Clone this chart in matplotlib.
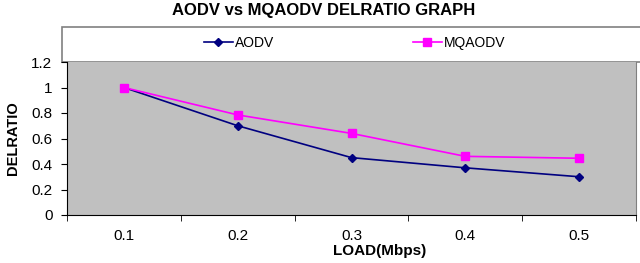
import matplotlib
matplotlib.use("Agg")
import matplotlib.pyplot as plt
from matplotlib.patches import Rectangle

plt.rcParams['font.family'] = ['Liberation Sans', 'DejaVu Sans']

loads = ['0.1', '0.2', '0.3', '0.4', '0.5']
aodv = [1.0, 0.70, 0.45, 0.37, 0.30]
mqaodv = [1.0, 0.785, 0.64, 0.46, 0.445]

fig = plt.figure(figsize=(6.4, 2.63), dpi=100)
W, H = 640, 263
ax = fig.add_axes([67 / W, (H - 215) / H, (636 - 67) / W, (215 - 62) / H])
ax.set_facecolor('#c0c0c0')

x = list(range(len(loads)))
ax.plot(x, aodv, color='#000080', marker='D', markersize=4.2, lw=1.2, label='AODV')
ax.plot(x, mqaodv, color='#ff00ff', marker='s', markersize=5.8, lw=1.2, label='MQAODV')

ax.set_xlim(-0.5, len(loads) - 0.5)
ax.set_ylim(0, 1.2)
ax.set_yticks([0, 0.2, 0.4, 0.6, 0.8, 1, 1.2])
ax.set_yticklabels(['0', '0.2', '0.4', '0.6', '0.8', '1', '1.2'], fontsize=11)
ax.set_xticks(x)
ax.set_xticklabels(loads, fontsize=11)
ax.set_xticks([i + 0.5 for i in range(-1, len(loads))], minor=True)
ax.tick_params(axis='x', which='major', length=0, pad=10)
ax.tick_params(axis='x', which='minor', length=4, direction='out')
ax.tick_params(axis='y', length=4, direction='out', pad=6.5)

for s in ['left', 'bottom']:
    ax.spines[s].set_color('black')
ax.spines['right'].set_color('#808080')
ax.spines['top'].set_visible(False)

ax.set_xlabel('LOAD(Mbps)', fontsize=11, fontweight='bold', labelpad=1,
              x=(380 - 67) / (636 - 67))
ax.set_ylabel('DELRATIO', fontsize=10.5, fontweight='bold', labelpad=8)

fig.text(324 / W, 1 - 11 / H, 'AODV vs MQAODV DELRATIO GRAPH', ha='center', va='center',
         fontsize=12, fontweight='bold')

# legend box across the top of the plot
fig.patches.append(Rectangle((62 / W, (H - 62) / H), (650 - 62) / W, 35 / H,
                             transform=fig.transFigure, facecolor='white',
                             edgecolor='#808080', lw=1.2, zorder=-1))
fig.legend(loc='center left', bbox_to_anchor=(191 / W, 1 - 43 / H), ncol=2,
           frameon=False, fontsize=10, columnspacing=10.0, handlelength=2.1,
           handletextpad=0.15)

fig.savefig('out.png', dpi=100)
